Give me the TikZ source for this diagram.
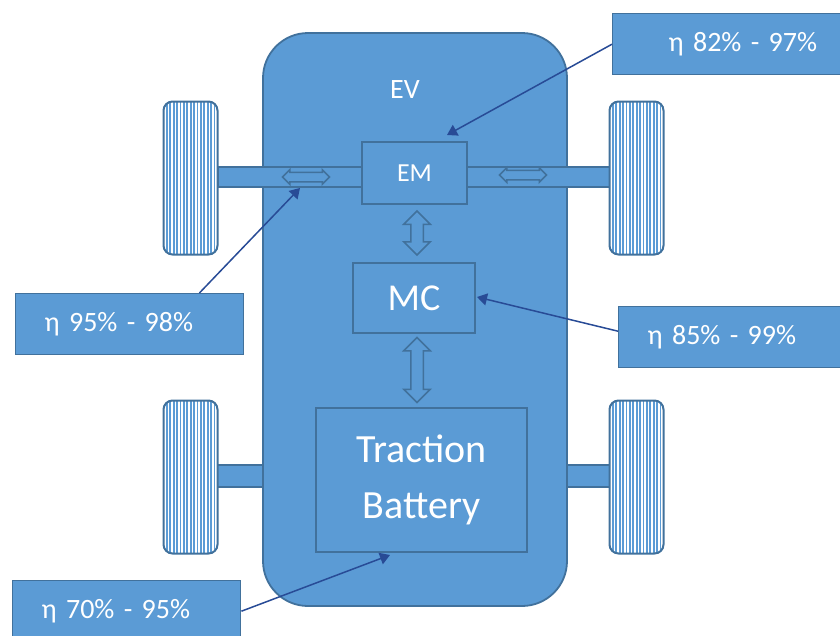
\documentclass[tikz,border=0pt]{standalone}
\usepackage{fontspec}
\setmainfont{Carlito}
\usepackage{xcolor}
\usepackage{tikz}
\usetikzlibrary{shapes.arrows, arrows.meta, positioning}

\definecolor{evblue}{RGB}{91,155,213}
\definecolor{evline}{RGB}{65,113,156}
\definecolor{evarrow}{RGB}{40,75,150}

\begin{document}
\begin{tikzpicture}[x=1pt, y=-1pt,
    % ── Car body and blocks ──────────────────────────────────────────
    body/.style={draw=evline, fill=evblue, line width=1.8pt,
        rounded corners=45pt, minimum width=304pt, minimum height=573pt},
    block/.style={draw=evline, fill=evblue, line width=2pt,
        text=white, align=center, inner sep=0pt},
    axle/.style={draw=evline, fill=evblue, line width=1.8pt, inner sep=0pt},
    % ── Wheels: white with blue tread stripes ────────────────────────
    wheel/.style={draw=evline, fill=white, line width=2pt,
        rounded corners=9pt, minimum width=54pt, minimum height=153pt,
        inner sep=0pt,
        path picture={
            \foreach \k in {1,...,15}
                \draw[evblue, line width=1.8pt]
                    ([xshift=\k*3.4pt]path picture bounding box.south west) --
                    ([xshift=\k*3.4pt]path picture bounding box.north west);
        }},
    % ── Hollow double arrows ─────────────────────────────────────────
    dblh/.style={shape=double arrow, draw=evline, fill=evblue,
        line width=1.5pt, inner sep=4pt, minimum height=47pt,
        double arrow head extend=2.5pt},
    dblv/.style={shape=double arrow, shape border rotate=90, draw=evline,
        fill=evblue, line width=1.5pt, inner sep=5.5pt,
        double arrow head extend=7pt},
    % ── Efficiency callouts ──────────────────────────────────────────
    callout/.style={draw=evline, fill=evblue, line width=1.4pt,
        text=white, anchor=north west, align=left, text width=170pt,
        inner xsep=29pt, minimum height=61pt,
        font=\fontsize{28}{32}\selectfont},
    callarrow/.style={draw=evarrow, line width=1.5pt,
        -{Triangle[width=12pt, length=10pt]}}
]
\useasboundingbox (0,0) rectangle (840,635);

% ══════════════════════════════════════════════════════════════════════
% CHASSIS
% ══════════════════════════════════════════════════════════════════════
    \node[axle, minimum width=60pt, minimum height=22pt] (axrl) at (238,476) {};
    \node[axle, minimum width=60pt, minimum height=22pt] (axrr) at (590,476) {};

    \node[body] (ev) at (415,319.5) {};
    \node[text=white, font=\fontsize{28}{32}\selectfont] (evlbl) at (405,90) {EV};

    \node[axle, minimum width=392pt, minimum height=20pt] (axf) at (414,177) {};

    \node[wheel] (wfl) at (190.5,178) {};
    \node[wheel] (wfr) at (636.5,178) {};
    \node[wheel] (wrl) at (190.5,477) {};
    \node[wheel] (wrr) at (636.5,477) {};

% ══════════════════════════════════════════════════════════════════════
% DRIVETRAIN BLOCKS
% ══════════════════════════════════════════════════════════════════════
    \node[block, minimum width=105pt, minimum height=62pt,
          font=\fontsize{26}{30}\selectfont] (em) at (414.5,173) {EM};
    \node[block, minimum width=122pt, minimum height=70pt,
          font=\fontsize{38}{42}\selectfont] (mc) at (414,298) {MC};
    \node[block, minimum width=211pt, minimum height=144pt,
          font=\fontsize{40}{56}\selectfont] (bat) at (421.5,480)
        {Traction\\Battery};

    \node[dblh] (dl) at (306,177) {};
    \node[dblh] (dr) at (523,175) {};
    \node[dblv, minimum height=44pt] (d1) at (417,233) {};
    \node[dblv, minimum height=65pt] (d2) at (417,370) {};

% ══════════════════════════════════════════════════════════════════════
% EFFICIENCY CALLOUTS
% ══════════════════════════════════════════════════════════════════════
    \node[callout, inner xsep=56pt] (c1) at (612,13) {η 82\% - 97\%};
    \node[callout] (c2) at (15,293) {η 95\% - 98\%};
    \node[callout] (c3) at (618,306) {η 85\% - 99\%};
    \node[callout] (c4) at (12,580) {η 70\% - 95\%};

    \coordinate (emtip)  at (447,135);
    \coordinate (axtip)  at (300,188);
    \coordinate (mctip)  at (477,297);
    \coordinate (battip) at (390,555);

    \draw[callarrow] (c1.west) -- (emtip);
    \draw[callarrow] ([xshift=-45pt]c2.north east) -- (axtip);
    \draw[callarrow] ([yshift=6pt]c3.west) -- (mctip);
    \draw[callarrow] (c4.east) -- (battip);

\end{tikzpicture}
\end{document}
